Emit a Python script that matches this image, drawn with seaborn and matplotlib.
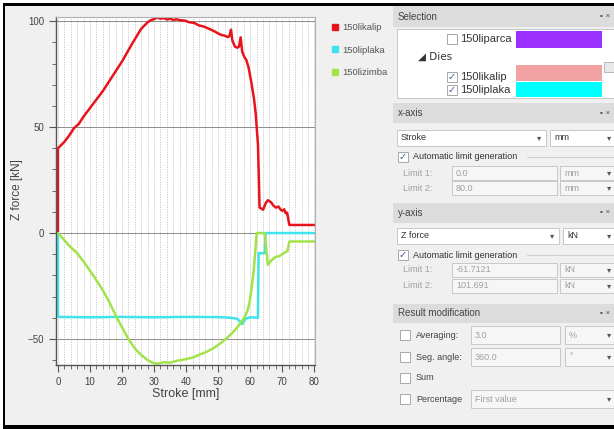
import numpy as np
import pandas as pd
import matplotlib
matplotlib.use("Agg")
import matplotlib.pyplot as plt
from matplotlib.patches import Rectangle
from matplotlib.lines import Line2D
import seaborn as sns

# --- data ---
series_names = ["150likalip", "150liplaka", "150lizimba"]
series_colors = ["#e8141c", "#3ee3ec", "#a2e34a"]

kalip_x = [0, 0, 1, 2, 3.5, 5, 6.5, 8, 9.5, 11, 12.5, 14, 15.5, 17, 18.5, 20, 21.5, 23, 24, 25, 26, 27, 28,
           29, 30, 31, 32, 33, 34, 35, 36, 37, 38, 39.5, 41, 42.5, 44, 45.5, 47, 48.5, 50, 51, 52, 53,
           53.5, 54, 54.4, 55.2, 56, 56.5, 57, 57.5, 58.2, 58.8, 59.5, 60.4, 61.2, 61.7, 62.1, 62.4,
           62.7, 62.9, 63.5, 64, 64.8, 65.5, 66.5, 67.2, 68, 68.8, 69.5, 70, 70.6, 71, 71.5, 72.2, 80]
kalip_y = [0, 40, 41.5, 43, 46, 49.5, 51.5, 55, 58, 61, 64, 67, 70.5, 74, 77.5, 81, 85, 89, 91.5, 94, 96.5, 98,
           99.5, 100.5, 101, 101.7, 101.2, 101.5, 100.8, 101.2, 100.6, 100.9, 100.5, 100.3, 99.5, 99.2, 98,
           97.5, 96.5, 95.5, 94.2, 93.5, 93.2, 92.5, 93, 96, 91, 88, 87.5, 88, 92.4, 85.5, 83, 81.6, 78,
           70.6, 63, 56.5, 48, 42, 25, 12, 11.5, 11, 14, 15.5, 14.5, 13, 12, 12.5, 11, 10.5, 11.2, 9.4,
           9.6, 3.8, 3.8]

plaka_x = [0, 0, 10, 20, 30, 40, 50, 54, 56, 57.5, 58.5, 60, 62.4, 62.6, 64.5, 64.8, 80]
plaka_y = [0, -39.6, -39.8, -39.6, -39.8, -39.6, -39.7, -40, -40.5, -43, -40.5, -39.8, -40, -9.5, -9.5, 0, 0]

zimba_x = [0, 1.5, 3.3, 6, 8.4, 11, 13.6, 16, 18.2, 20, 21.8, 24, 25.9, 28, 29.5, 31.1, 33, 35, 37.2,
           40, 42, 44.4, 46.5, 48.6, 50.5, 52.7, 54.3, 55.8, 57, 58.3, 59.2, 59.9, 60.5, 61.1, 61.6, 62,
           64.5, 65.5, 66.5, 68, 69, 70, 70.5, 71.2, 71.6, 72.2, 80]
zimba_y = [0, -2.5, -5.7, -9.5, -14.3, -20, -26, -32.5, -39.5, -44.5, -49.6, -54.5, -57.5, -60, -61.2,
           -61.7, -61, -61.2, -60.3, -59.5, -58.8, -57.3, -56, -54.3, -52.3, -49.6, -47.3, -44.8, -42.5,
           -39.5, -36.5, -31.7, -25, -17.5, -8, 0, 0, -15, -13, -11.2, -11, -10, -9.5, -8.8, -8.5, -4, -4]

x_ticks = [0, 10, 20, 30, 40, 50, 60, 70, 80]
y_ticks = [-50, 0, 50, 100]
y_limits = (-61.7121, 101.691)

W, H = 614, 429


def fx(px):
    return px / W


def fy(py):
    return 1 - py / H


df = pd.concat([
    pd.DataFrame({"stroke": kalip_x, "force": kalip_y, "series": series_names[0]}),
    pd.DataFrame({"stroke": plaka_x, "force": plaka_y, "series": series_names[1]}),
    pd.DataFrame({"stroke": zimba_x, "force": zimba_y, "series": series_names[2]}),
], ignore_index=True)

sns.set_style("ticks")
plt.rcParams["font.family"] = ["Liberation Sans", "DejaVu Sans"]

fig = plt.figure(figsize=(W / 100, H / 100), dpi=100, facecolor="#f0f0f0")


def rect(x0, y0, x1, y1, fc, ec="none", lw=0.8, z=1):
    fig.patches.append(Rectangle((fx(x0), fy(y1)), fx(x1) - fx(x0), (y1 - y0) / H,
                                 transform=fig.transFigure, facecolor=fc, edgecolor=ec,
                                 lw=lw, zorder=z))


def txt(px, py, s, size=7, color="#333333", **kw):
    fig.text(fx(px), fy(py), s, fontsize=size, color=color, va="center", **kw)


ax = fig.add_axes([fx(56), fy(365), fx(315) - fx(56), (365 - 17) / H])
ax.set_facecolor("white")

sns.lineplot(data=df, x="stroke", y="force", hue="series", palette=series_colors,
             hue_order=series_names, sort=False, estimator=None, units="series",
             legend=False, linewidth=1.8, ax=ax)

ax.set_xlim(-0.6, 80.2)
ax.set_ylim(y_limits[0] - 0.6, y_limits[1] + 0.3)
ax.set_xticks(x_ticks)
ax.set_xticks(np.arange(0, 81, 2), minor=True)
ax.set_yticks(y_ticks)
ax.set_yticks(np.arange(-60, 101, 10), minor=True)
ax.grid(which="both", axis="x", color="#c4c4c4", ls=(0, (1.5, 1.5)), lw=0.6)
ax.grid(which="major", axis="y", color="#8c8c8c", ls="-", lw=0.7)
ax.set_axisbelow(True)
ax.tick_params(which="major", direction="out", length=5, color="#555555", labelsize=7, labelcolor="#444444")
ax.tick_params(which="minor", direction="out", length=3, color="#555555")
for side in ["left", "bottom"]:
    ax.spines[side].set_color("#555555")
    ax.spines[side].set_linewidth(1.0)
for side in ["top", "right"]:
    ax.spines[side].set_color("#b0b0b0")
    ax.spines[side].set_linewidth(0.8)

ax.set_xlabel("Stroke [mm]", fontsize=9, color="#444444", labelpad=1)
ax.set_ylabel("")
fig.text(fx(17), fy(190), "Z force [kN]", fontsize=8.5, color="#444444", rotation=90, ha="center", va="center")

handles = [Line2D([], [], marker="s", color=c, linestyle="", markersize=5) for c in series_colors]
fig.legend(handles, series_names, loc="upper left", bbox_to_anchor=(fx(322), fy(15)),
           frameon=False, fontsize=6.8, labelcolor="#555555", labelspacing=1.4,
           handletextpad=0.2, handlelength=1.0)

# --- side panel ---
header_c = "#dcdcdc"
box_ec = "#c8c8c8"
dim = "#a0a0a0"


def header(y0, y1, label):
    rect(393, y0, 614, y1, header_c)
    txt(398, (y0 + y1) / 2, label, size=7, color="#444444")
    txt(600, (y0 + y1) / 2, "▪ ×", size=6, color="#555555")


def checkbox(px, py, checked):
    rect(px, py - 5, px + 10, py + 5, "white", ec="#a8a8a8", lw=0.7, z=2)
    if checked:
        fig.text(fx(px + 5), fy(py), "✓", fontsize=7, color="#3a5a9a", ha="center", va="center",
                 family="DejaVu Sans")


def field(x0, x1, py, s, color=dim, arrow=False, h=8):
    rect(x0, py - h, x1, py + h, "#f6f6f6" if color == dim else "white", ec=box_ec, lw=0.7, z=2)
    txt(x0 + 4, py, s, size=6.5, color=color)
    if arrow:
        fig.text(fx(x1 - 7), fy(py), "▾", fontsize=6, color="#555555", ha="center", va="center",
                 family="DejaVu Sans")


header(6, 27, "Selection")
rect(397, 29, 614, 98, "white", ec=box_ec, lw=0.7)
checkbox(447, 39, False)
txt(460, 39, "150liparca", size=8, color="#333333")
rect(516, 31, 602, 48, "#9b30ff", z=2)
txt(418, 57, "◢ Dies", size=7.5, color="#333333", family="DejaVu Sans")
checkbox(447, 77, True)
txt(460, 77, "150likalip", size=8, color="#333333")
rect(516, 65, 602, 81, "#f2a2a2", z=2)
checkbox(447, 90, True)
txt(460, 90, "150liplaka", size=8, color="#333333")
rect(516, 82, 602, 97, "#00ffff", z=2)
rect(604, 62, 614, 72, "#e8e8e8", ec="#b0b0b0", lw=0.6, z=2)

header(103, 123, "x-axis")
field(397, 546, 138, "Stroke", color="#333333", arrow=True)
field(550, 616, 138, "mm", color="#333333", arrow=True)
checkbox(398, 157, True)
txt(413, 157, "Automatic limit generation", size=6.5, color="#333333")
fig.lines.append(Line2D([fx(527), fx(614)], [fy(157), fy(157)], transform=fig.transFigure, color="#d0d0d0", lw=0.8))
txt(403, 173, "Limit 1:", size=6.5, color=dim)
field(452, 557, 173, "0.0", h=7)
field(560, 616, 173, "mm", arrow=True, h=7)
txt(403, 188, "Limit 2:", size=6.5, color=dim)
field(452, 557, 188, "80.0", h=7)
field(560, 616, 188, "mm", arrow=True, h=7)

header(203, 223, "y-axis")
field(397, 559, 236, "Z force", color="#333333", arrow=True)
field(563, 616, 236, "kN", color="#333333", arrow=True)
checkbox(398, 255, True)
txt(413, 255, "Automatic limit generation", size=6.5, color="#333333")
fig.lines.append(Line2D([fx(527), fx(614)], [fy(255), fy(255)], transform=fig.transFigure, color="#d0d0d0", lw=0.8))
txt(403, 270, "Limit 1:", size=6.5, color=dim)
field(452, 557, 270, "-61.7121", h=7)
field(560, 616, 270, "kN", arrow=True, h=7)
txt(403, 286, "Limit 2:", size=6.5, color=dim)
field(452, 557, 286, "101.691", h=7)
field(560, 616, 286, "kN", arrow=True, h=7)

header(304, 323, "Result modification")
checkbox(400, 335, False)
txt(416, 335, "Averaging:", size=6.5, color="#444444")
field(471, 560, 335, "3.0", h=9)
field(565, 616, 335, "%", arrow=True, h=9)
checkbox(400, 357, False)
txt(416, 357, "Seg. angle:", size=6.5, color="#444444")
field(471, 560, 357, "360.0", h=9)
field(565, 616, 357, "°", arrow=True, h=9)
checkbox(400, 378, False)
txt(416, 378, "Sum", size=6.5, color="#444444")
checkbox(400, 399, False)
txt(416, 399, "Percentage", size=6.5, color="#444444")
field(471, 616, 399, "First value", arrow=True, h=9)

# screenshot frame
rect(0, 0, 614, 3, "white", z=5)
rect(0, 0, 3, 429, "white", z=5)
rect(3, 3, 614, 6, "black", z=6)
rect(3, 3, 5, 429, "black", z=6)
rect(3, 425, 614, 429, "black", z=6)

fig.savefig("out.png", dpi=100, facecolor=fig.get_facecolor())
